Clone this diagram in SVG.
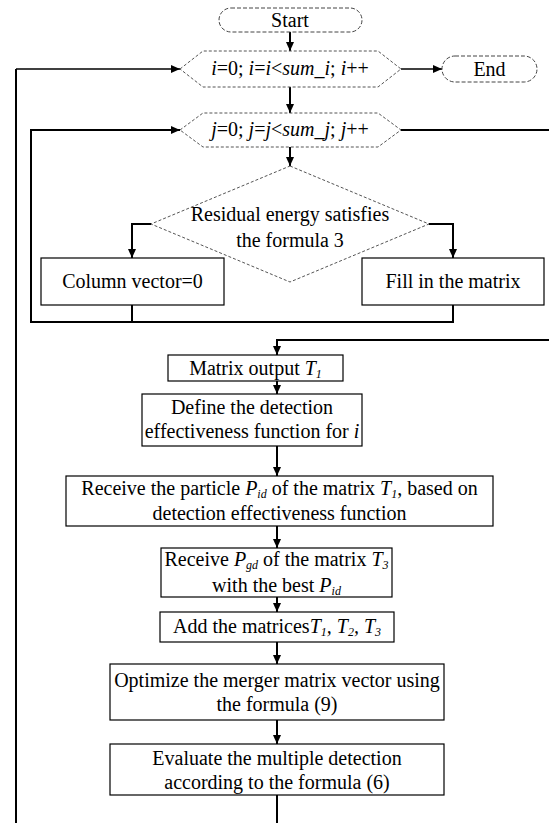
<svg xmlns="http://www.w3.org/2000/svg" width="549" height="823" viewBox="0 0 549 823">
<style>
text{font-family:"Liberation Serif","Times New Roman",serif;font-size:20px;fill:#000;text-anchor:middle}
.it{font-style:italic}
.sub{font-size:12px;font-style:italic}
.term{fill:#fff;stroke:#444;stroke-width:1;stroke-dasharray:4,2}
.dec{fill:#fff;stroke:#555;stroke-width:1;stroke-dasharray:3,2}
.box{fill:#fff;stroke:#000;stroke-width:1.2}
.con{fill:none;stroke:#000;stroke-width:2}
.thin{fill:none;stroke:#000;stroke-width:1.4}
</style>
<defs>
<marker id="ah" markerUnits="userSpaceOnUse" markerWidth="9" markerHeight="8" refX="9" refY="4" orient="auto" viewBox="0 0 9 8">
<path d="M0,0 L9,4 L0,8 z" fill="#000"/>
</marker>
</defs>
<g id="connectors">
<path class="con" d="M290,32 V51" marker-end="url(#ah)"/>
<path class="thin" d="M401,69 H442" marker-end="url(#ah)"/>
<path class="con" d="M290,87 V113" marker-end="url(#ah)"/>
<path class="con" d="M290,147 V166" marker-end="url(#ah)"/>
<path class="con" d="M151,224 H132 V258" marker-end="url(#ah)"/>
<path class="con" d="M429,224 H453 V258" marker-end="url(#ah)"/>
<path class="con" d="M132,305 V322"/>
<path class="con" d="M453,305 V322 H31 V130 H180" marker-end="url(#ah)"/>
<path class="con" d="M401,130 H552 V340 H277 V355" marker-end="url(#ah)"/>
<path class="con" d="M277,381 V394" marker-end="url(#ah)"/>
<path class="con" d="M277,446 V476" marker-end="url(#ah)"/>
<path class="con" d="M277,526 V548" marker-end="url(#ah)"/>
<path class="con" d="M277,597 V612" marker-end="url(#ah)"/>
<path class="con" d="M277,642 V664" marker-end="url(#ah)"/>
<path class="con" d="M277,720 V744" marker-end="url(#ah)"/>
<path class="con" d="M277,795 V828 H16 V69"/>
<path class="thin" d="M16,69 H180" marker-end="url(#ah)"/>
</g>
<g id="start">
<rect class="term" x="219" y="8" width="143" height="24" rx="12"/>
<text x="290" y="27">Start</text>
</g>
<g id="loop-i">
<polygon class="dec" points="180,69 203,51 378,51 401,69 378,87 203,87"/>
<text x="290" y="75"><tspan class="it">i</tspan>=0; <tspan class="it">i</tspan>=<tspan class="it">i</tspan>&lt;<tspan class="it">sum_i</tspan>; <tspan class="it">i</tspan>++</text>
</g>
<g id="end">
<rect class="term" x="442" y="56" width="95" height="26" rx="13"/>
<text x="489.5" y="76">End</text>
</g>
<g id="loop-j">
<polygon class="dec" points="180,130 203,113 378,113 401,130 378,147 203,147"/>
<text x="290" y="136"><tspan class="it">j</tspan>=0; <tspan class="it">j</tspan>=<tspan class="it">j</tspan>&lt;<tspan class="it">sum_j</tspan>; <tspan class="it">j</tspan>++</text>
</g>
<g id="decision">
<polygon class="dec" points="290,166 429,224 290,282 151,224"/>
<text x="290" y="221">Residual energy satisfies</text>
<text x="290" y="247">the formula 3</text>
</g>
<g id="column-vector">
<rect class="box" x="41" y="258" width="183" height="47"/>
<text x="132.5" y="288">Column vector=0</text>
</g>
<g id="fill-matrix">
<rect class="box" x="362" y="258" width="182" height="47"/>
<text x="453" y="288">Fill in the matrix</text>
</g>
<g id="matrix-output">
<rect class="box" x="168" y="355" width="175" height="26"/>
<text x="255.5" y="375">Matrix output <tspan class="it">T</tspan><tspan class="sub" dy="3">1</tspan></text>
</g>
<g id="define">
<rect class="box" x="142" y="394" width="220" height="52"/>
<text x="252" y="414">Define the detection</text>
<text x="252" y="438">effectiveness function for <tspan class="it">i</tspan></text>
</g>
<g id="receive-particle">
<rect class="box" x="66" y="476" width="427" height="50"/>
<text x="279.5" y="495">Receive the particle <tspan class="it">P</tspan><tspan class="sub" dy="3">id</tspan><tspan dy="-3"> of the matrix </tspan><tspan class="it">T</tspan><tspan class="sub" dy="3">1</tspan><tspan dy="-3">, based on</tspan></text>
<text x="279.5" y="520">detection effectiveness function</text>
</g>
<g id="receive-pgd">
<rect class="box" x="161" y="548" width="231" height="49"/>
<text x="276.5" y="566">Receive <tspan class="it">P</tspan><tspan class="sub" dy="3">gd</tspan><tspan dy="-3"> of the matrix </tspan><tspan class="it">T</tspan><tspan class="sub" dy="3">3</tspan></text>
<text x="276.5" y="592">with the best <tspan class="it">P</tspan><tspan class="sub" dy="3">id</tspan></text>
</g>
<g id="add-matrices">
<rect class="box" x="160" y="612" width="234" height="30"/>
<text x="277" y="633">Add the matrices<tspan class="it">T</tspan><tspan class="sub" dy="3">1</tspan><tspan class="it" dy="-3">, T</tspan><tspan class="sub" dy="3">2</tspan><tspan class="it" dy="-3">, T</tspan><tspan class="sub" dy="3">3</tspan></text>
</g>
<g id="optimize">
<rect class="box" x="110" y="664" width="334" height="56"/>
<text x="277" y="687">Optimize the merger matrix vector using</text>
<text x="277" y="711">the formula (9)</text>
</g>
<g id="evaluate">
<rect class="box" x="110" y="744" width="334" height="51"/>
<text x="277" y="765">Evaluate the multiple detection</text>
<text x="277" y="789">according to the formula (6)</text>
</g>
</svg>
